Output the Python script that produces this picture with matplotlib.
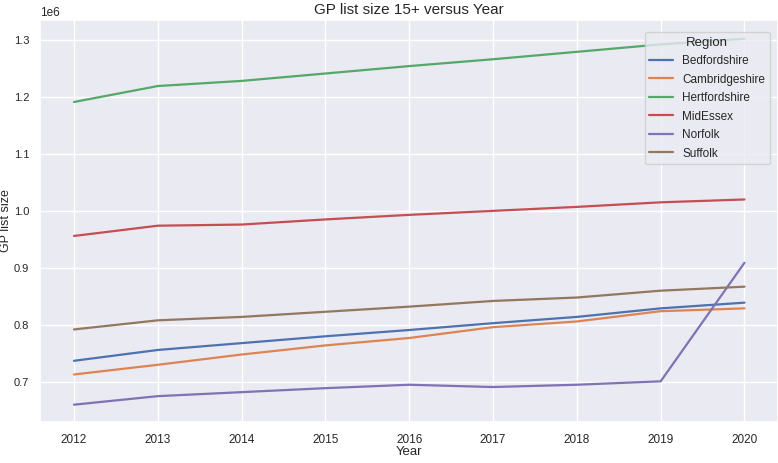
import matplotlib.pyplot as plt
import seaborn as sns

years = [2012, 2013, 2014, 2015, 2016, 2017, 2018, 2019, 2020]

# GP list size 15+ per region
bedfordshire = [737000, 756000, 768000, 780000, 791000, 803000, 814000, 829000, 839000]
cambridgeshire = [713000, 730000, 748000, 764000, 777000, 796000, 806000, 824000, 829000]
hertfordshire = [1191000, 1219000, 1228000, 1241000, 1254000, 1266000, 1279000, 1292000, 1302000]
midessex = [956000, 974000, 976000, 985000, 993000, 1000000, 1007000, 1015000, 1020000]
norfolk = [660000, 675000, 682000, 689000, 695000, 691000, 695000, 701000, 909000]
suffolk = [792000, 808000, 814000, 823000, 832000, 842000, 848000, 860000, 867000]

regions = ['Bedfordshire', 'Cambridgeshire', 'Hertfordshire', 'MidEssex', 'Norfolk', 'Suffolk']
series = [bedfordshire, cambridgeshire, hertfordshire, midessex, norfolk, suffolk]

sns.set_theme(style='darkgrid')
plt.rcParams['font.family'] = ['Liberation Sans', 'DejaVu Sans']

fig = plt.figure(figsize=(7.78, 4.63), dpi=100)
ax = fig.add_axes([0.052, 0.089, 0.948, 0.868])

colors = sns.color_palette()
for name, vals, c in zip(regions, series, colors):
    ax.plot(years, vals, color=c, linewidth=1.6, label=name)

ax.set_title('GP list size 15+ versus Year', fontsize=11, pad=4)
ax.set_xlabel('Year', fontsize=9.5, labelpad=0)
ax.set_ylabel('GP list size', fontsize=9)
ax.yaxis.set_label_coords(-0.038, 0.5)
ax.tick_params(axis='x', labelsize=8.5, pad=3)
ax.tick_params(axis='y', labelsize=8, pad=2)
ax.yaxis.get_offset_text().set_fontsize(8.5)
ax.set_ylim(0.63e6, 1.335e6)
ax.set_xticks(years)

leg = ax.legend(title='Region', loc='upper right', fontsize=8.5, title_fontsize=9.5,
                bbox_to_anchor=(0.997, 0.985), handlelength=2.0, labelspacing=0.55)

fig.savefig('out.png', dpi=100)
